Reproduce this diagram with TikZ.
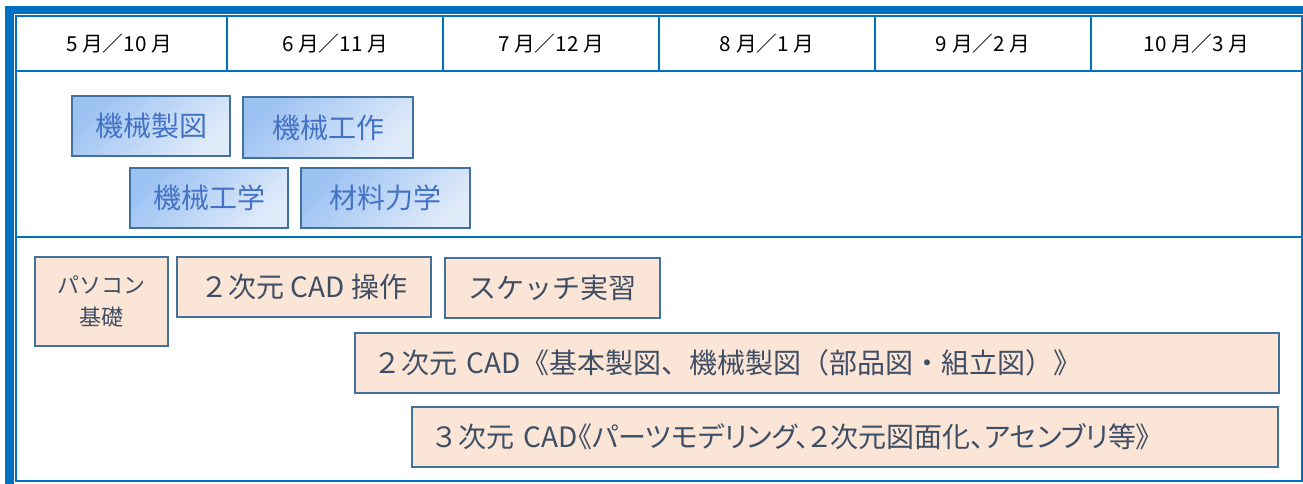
\documentclass[tikz,border=0pt]{standalone}
\usepackage{fontspec}
\setmainfont{Noto Sans CJK JP}
\newfontfamily\propjp[RawFeature=+palt]{Noto Sans CJK JP}
\definecolor{frameblue}{HTML}{0070C0}
\definecolor{boxline}{HTML}{41719C}
\definecolor{bluedark}{HTML}{9CC2F2}
\definecolor{bluelight}{HTML}{E0EBFA}
\definecolor{bluetext}{HTML}{4472C4}
\definecolor{peach}{HTML}{FBE5D6}
\definecolor{slate}{HTML}{3E4E64}
\tikzset{
  gridline/.style={draw=frameblue, line width=1.3pt},
  headtext/.style={font=\fontsize{15.5}{18}\selectfont, text=black, inner sep=0pt},
  bluebox/.style={draw=boxline, line width=1.6pt, top color=bluedark, bottom color=bluelight, shading angle=45,
    text=bluetext, font=\fontsize{21}{24}\selectfont, inner sep=0pt},
  peachbox/.style={draw=boxline, line width=1.6pt, fill=peach, text=slate,
    font=\fontsize{21}{24}\selectfont, inner sep=0pt},
}
\begin{document}
\begin{tikzpicture}[x=0.75pt, y=-0.75pt]
\useasboundingbox (0,0) rectangle (1303,484);
% thick frame bands
\fill[frameblue] (5,6) rectangle (1303,14);
\fill[frameblue] (5,6) rectangle (14,484);
% table
\draw[gridline] (16,16) rectangle (1302,481);
\draw[gridline] (16,71) -- (1302,71);
\draw[gridline] (16,237) -- (1302,237);
\foreach \x in {227,443,659,875,1091} {\draw[gridline] (\x,16) -- (\x,71);}
% header
\node[headtext] (h1) at (119,44) {5 月／10 月};
\node[headtext] (h2) at (335,44) {6 月／11 月};
\node[headtext] (h3) at (551,44) {7 月／12 月};
\node[headtext] (h4) at (767,44) {8 月／1 月};
\node[headtext] (h5) at (983,44) {9 月／2 月};
\node[headtext] (h6) at (1196.5,44) {10 月／3 月};
% blue boxes
\node[bluebox, minimum width=118.5pt, minimum height=45pt] (kz) at (151,126) {機械製図};
\node[bluebox, minimum width=127.5pt, minimum height=45.75pt] (kk) at (328,127.5) {機械工作};
\node[bluebox, minimum width=118.5pt, minimum height=45pt] (kg) at (209,198) {機械工学};
\node[bluebox, minimum width=126.75pt, minimum height=45pt] (zr) at (385.5,198) {材料力学};
% peach boxes
\node[peachbox, minimum width=99.75pt, minimum height=66.75pt, align=center,
  font=\fontsize{16.5}{24}\selectfont] (pc) at (101.5,301.5) {パソコン\\基礎};
\node[peachbox, minimum width=190.5pt, minimum height=45pt] (c2) at (304,287) {２次元 CAD 操作};
\node[peachbox, minimum width=161.25pt, minimum height=45pt] (sk) at (552.5,288) {スケッチ実習};
\node[peachbox, inner xsep=14pt, text width=665pt, minimum height=45pt, align=left] (cadtwo) at (817,363)
  {２次元 CAD《基本製図、機械製図（部品図・組立図）》};
\node[peachbox, inner xsep=14pt, text width=621.5pt, minimum height=45pt, align=left] (cadthree) at (845,437)
  {３次元 CAD\propjp《パーツモデリング、２次元図面化、アセンブリ等》};
\end{tikzpicture}
\end{document}
